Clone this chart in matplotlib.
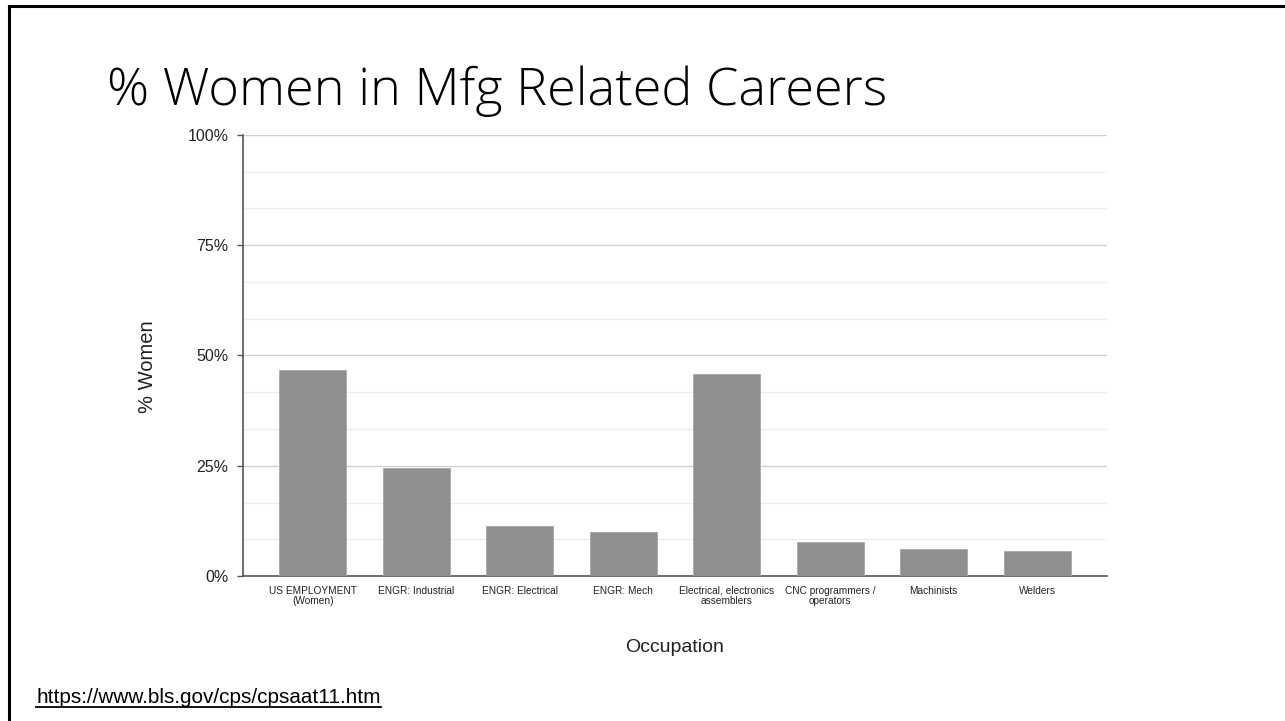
import matplotlib
matplotlib.use('Agg')
import matplotlib.pyplot as plt
from matplotlib.ticker import MultipleLocator, FuncFormatter
from matplotlib.lines import Line2D

plt.rcParams['font.family'] = ['Liberation Sans', 'DejaVu Sans']

# Data
occupations = ['US EMPLOYMENT\n(Women)', 'ENGR: Industrial', 'ENGR: Electrical',
               'ENGR: Mech', 'Electrical, electronics\nassemblers',
               'CNC programmers /\noperators', 'Machinists', 'Welders']
pct_women = [46.6, 24.5, 11.4, 10.0, 45.7, 7.7, 6.1, 5.6]

fig = plt.figure(figsize=(12.85, 7.21), dpi=100)
ax = fig.add_axes([0.1891, 0.2011, 0.8615 - 0.1891, 0.8128 - 0.2011])

xs = range(len(occupations))
ax.bar(xs, pct_women, width=0.65, color='#8f8f8f', edgecolor='#a8a8a8',
       linewidth=0.6, zorder=3)

ax.set_xlim(-0.675, len(occupations) - 1 + 0.675)
ax.set_ylim(0, 100)

# y axis: major every 25%, light minor lines in between
ax.yaxis.set_major_locator(MultipleLocator(25))
ax.yaxis.set_minor_locator(MultipleLocator(25 / 3))
ax.yaxis.set_major_formatter(FuncFormatter(lambda v, p: '%d%%' % v))
ax.grid(axis='y', which='major', color='#cfcfcf', linewidth=1.0, zorder=0)
ax.grid(axis='y', which='minor', color='#ececec', linewidth=1.0, zorder=0)
ax.tick_params(axis='y', which='major', length=4.5, width=1, color='#555555',
               pad=6, labelsize=11.5, labelcolor='#222222')
ax.tick_params(axis='y', which='minor', length=0)

ax.set_xticks(list(xs))
ax.set_xticklabels(occupations, fontsize=7.3, color='#222222', linespacing=1.0)
ax.tick_params(axis='x', length=0, pad=7)

for s in ['top', 'right']:
    ax.spines[s].set_visible(False)
ax.spines['left'].set_color('#555555')
ax.spines['bottom'].set_color('#555555')
ax.spines['left'].set_linewidth(1.2)
ax.spines['bottom'].set_linewidth(1.2)

ax.set_ylabel('% Women', fontsize=14.5, color='#222222')
ax.yaxis.set_label_coords(-0.100, 0.474)
ax.set_xlabel('Occupation', fontsize=14, color='#222222')
ax.xaxis.set_label_coords(0.5, -0.143)

# slide title
fig.text(107 / 1285, 1 - 105 / 721, '% Women in Mfg Related Careers',
         fontsize=37.6, family=['Open Sans', 'DejaVu Sans'], fontweight='light',
         va='baseline', ha='left', color='black')

# source link, underlined
src = fig.text(36 / 1285, 1 - 703 / 721, 'https://www.bls.gov/cps/cpsaat11.htm',
               fontsize=14.95, va='baseline', ha='left', color='black')
fig.canvas.draw()
bb = src.get_window_extent().transformed(fig.transFigure.inverted())
uy = 1 - 706.5 / 721
fig.add_artist(Line2D([bb.x0, bb.x1], [uy, uy], color='black', linewidth=1.3))

# slide frame: top and left edges only
fig.add_artist(Line2D([8.5 / 1285, 1], [1 - 6 / 721, 1 - 6 / 721],
                      color='black', linewidth=2.2))
fig.add_artist(Line2D([8.5 / 1285, 8.5 / 1285], [0, 1 - 6 / 721],
                      color='black', linewidth=2.2))

fig.savefig('out.png', dpi=100)
